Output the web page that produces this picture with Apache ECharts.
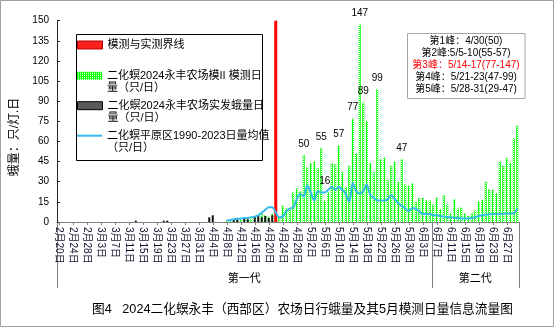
<!DOCTYPE html>
<html><head><meta charset="utf-8">
<script src="https://cdn.jsdelivr.net/npm/echarts@6/dist/echarts.min.js"></script>
<style>html,body{margin:0;padding:0;background:#fff}#c{width:555px;height:328px}</style>
</head><body><div id="c"></div>
<script>
// ---------- data ----------
const categories = [
 '2月20日','2月21日','2月22日','2月23日','2月24日','2月25日','2月26日','2月27日','2月28日','2月29日',
 '3月1日','3月2日','3月3日','3月4日','3月5日','3月6日','3月7日','3月8日','3月9日','3月10日',
 '3月11日','3月12日','3月13日','3月14日','3月15日','3月16日','3月17日','3月18日','3月19日','3月20日',
 '3月21日','3月22日','3月23日','3月24日','3月25日','3月26日','3月27日','3月28日','3月29日','3月30日','3月31日',
 '4月1日','4月2日','4月3日','4月4日','4月5日','4月6日','4月7日','4月8日','4月9日','4月10日',
 '4月11日','4月12日','4月13日','4月14日','4月15日','4月16日','4月17日','4月18日','4月19日','4月20日',
 '4月21日','4月22日','4月23日','4月24日','4月25日','4月26日','4月27日','4月28日','4月29日','4月30日',
 '5月1日','5月2日','5月3日','5月4日','5月5日','5月6日','5月7日','5月8日','5月9日','5月10日',
 '5月11日','5月12日','5月13日','5月14日','5月15日','5月16日','5月17日','5月18日','5月19日','5月20日',
 '5月21日','5月22日','5月23日','5月24日','5月25日','5月26日','5月27日','5月28日','5月29日','5月30日','5月31日',
 '6月1日','6月2日','6月3日','6月4日','6月5日','6月6日','6月7日','6月8日','6月9日','6月10日',
 '6月11日','6月12日','6月13日','6月14日','6月15日','6月16日','6月17日','6月18日','6月19日','6月20日',
 '6月21日','6月22日','6月23日','6月24日','6月25日','6月26日','6月27日','6月28日','6月29日','6月30日'
];
const seriesNames = ['模测与实测界线','二化螟2024永丰农场模II 模测日量（只/日）','二化螟2024永丰农场实发蛾量日量（只/日）','二化螟平原区1990-2023日量均值（只/日）'];
const legendTexts = ['模测与实测界线','\n二化螟2024永丰农场模II 模测日\n量（只/日）','\n二化螟2024永丰农场实发蛾量日\n量（只/日）','\n二化螟平原区1990-2023日量均值\n（只/日）'];

const boundaryDate = '4月22日';
const boundaryValue = 150;

const modelStart = '4月8日';
const modelValues = [1,1,1,1.5,1.5,2,2,2.5,3,4,6,5,4,6,null,
 3,12,10,9,22,25,23,50,41,44,45,40,55,16,22,44,43,57,37,26,42,77,51,147,89,75,44,37,99,47,48,
 31,42,45,30,47,28,27,29,15,18,18,16,16,13,18,9.5,20,13,6.5,17,10,11,6.5,4.5,6.5,8.5,15.5,16.5,
 30,24.5,24,21.5,45,42,47.5,44,62,72];

const actualDates = ['3月13日','3月21日','3月22日','4月3日','4月4日','4月10日','4月11日','4月13日','4月14日','4月16日','4月17日','4月18日','4月19日','4月20日','4月21日'];
const actualValues = [1,1,1,3.5,5,2,2,2.5,2,4,5,3.5,4.5,3,5];

const avgStart = '4月8日';
const avgValues = [1,1.5,2,2.5,2.5,3,3,3.5,4,5,7,9,11,11,7,3.5,4,8,10,11,17,21,19,27,22,16,23,22,22,24,
 26,24,26,24,21,15,29,23,21,23,28,20,18,16,16,16,17,20,17,14,12,10,8,10.5,10,8,6,6,6,5,5,4.5,4,3.5,
 3.5,3,3,2.7,2.7,2.7,3,3.5,4.5,5,5.5,5.7,6,6,6,6.2,6.4,6.4,6.5,10];

const peakLabelDates = ['4月30日','5月5日','5月6日','5月10日','5月14日','5月16日','5月17日','5月21日','5月28日'];

const genNames = ['第一代','第二代'];
const genStarts = ['2月20日','6月6日'];

const peakNotes = ['第1峰：4/30(50)','第2峰:5/5-10(55-57)','第3峰：5/14-17(77-147)','第4峰：5/21-23(47-99)','第5峰：5/28-31(29-47)'];
const peakNoteColors = ['#000','#000','#ff0000','#000','#000'];

const yName = '蛾量：只/灯.日';
const chartTitle = '图4   2024二化螟永丰（西部区）农场日行蛾量及其5月模测日量信息流量图';
const yTicks = {min:0, max:150, interval:15};

// ---------- build ----------
const N = categories.length;
function fillFrom(start, vals){ const a = new Array(N).fill(null); const s = categories.indexOf(start); vals.forEach((v,k)=>{a[s+k]=v;}); return a; }
function fillAt(dates, vals){ const a = new Array(N).fill(null); dates.forEach((d,k)=>{a[categories.indexOf(d)]=vals[k];}); return a; }
const boundaryData = fillAt([boundaryDate],[boundaryValue]);
const modelData = fillFrom(modelStart, modelValues).map((v,i)=>{
  if (peakLabelDates.indexOf(categories[i])>=0) {
    return {value:v, label:{show:true, distance: categories[i]==='5月6日'?14:6}};
  }
  return v;
});
const actualData = fillAt(actualDates, actualValues);
const avgData = fillFrom(avgStart, avgValues);

function makePattern(){
  const c = document.createElement('canvas'); c.width=2; c.height=2;
  const g = c.getContext('2d');
  g.fillStyle='#00ff00'; g.fillRect(0,0,2,2);
  g.fillStyle='#ffffff'; g.fillRect(1,1,1,1);
  return c;
}
const greenFill = {image: makePattern(), repeat:'repeat'};
const FONT = "'Liberation Sans','Noto Sans CJK SC',sans-serif";

const legendTops = [39, 57.7, 87.7, 117.7];
const legendIcons = ['rect','rect','rect','path://M0,0L25,0L25,2L0,2Z'];
const legendItemStyles = [
  {color:'#ff2020', borderColor:'#b00000', borderWidth:1},
  {color: greenFill},
  {color:'#595959', borderColor:'#000', borderWidth:1},
  {color:'#33bbee', borderWidth:0}
];

const chart = echarts.init(document.getElementById('c'), null, {renderer:'canvas'});
const option = {
  animation:false,
  backgroundColor:'#fff',
  textStyle:{fontFamily:FONT},
  title:{text:chartTitle, left:92, top:303, padding:0, textStyle:{fontSize:12.7, fontWeight:'normal', color:'#000', fontFamily:FONT}},
  grid:{left:57, right:36, top:20.7, bottom:106, containLabel:false},
  legend: seriesNames.map((nm,k)=>({
    data:[{name:nm, icon:legendIcons[k], itemStyle:legendItemStyles[k]}],
    orient:'vertical', left:77, top:legendTops[k], padding:0,
    itemWidth:25, itemHeight:8, itemGap:0, selectedMode:false, symbolKeepAspect:true,
    formatter:()=>legendTexts[k],
    textStyle:{fontSize:11, lineHeight:12, color:'#000', fontFamily:FONT}
  })),
  xAxis:[{
    type:'category', data:categories, boundaryGap:true,
    axisLine:{lineStyle:{color:'#808080', width:1}},
    axisTick:{show:true, interval:3, alignWithLabel:true, length:3, lineStyle:{color:'#808080'}},
    axisLabel:{interval:3, rotate:-90, fontSize:10, color:'#10102a', margin:5, fontFamily:FONT},
    splitLine:{show:false}
  },{
    type:'category', data:categories, show:false, boundaryGap:true
  }],
  yAxis:{
    type:'value', min:yTicks.min, max:yTicks.max, interval:yTicks.interval,
    axisLine:{show:true, lineStyle:{color:'#262626'}},
    axisTick:{show:true, inside:true, length:3, lineStyle:{color:'#262626'}},
    axisLabel:{fontSize:10, color:'#000', margin:8, fontFamily:FONT},
    splitLine:{show:false}
  },
  series:[
    {name:seriesNames[0], type:'bar', xAxisIndex:1, data:boundaryData, barWidth:3, itemStyle:{color:'#ff0000'}},
    {name:seriesNames[1], type:'bar', data:modelData, barWidth:2, barGap:'-100%', itemStyle:{color:greenFill},
      label:{show:false, position:'top', distance:6, color:'#000', fontSize:10, fontFamily:FONT}},
    {name:seriesNames[2], type:'bar', data:actualData, barWidth:2, barGap:'-100%', itemStyle:{color:'#111'}},
    {name:seriesNames[3], type:'line', data:avgData, symbol:'none', showSymbol:false, smooth:0.3,
      lineStyle:{color:'#33bbee', width:2}, itemStyle:{color:'#33bbee'}, z:5}
  ]
};
chart.setOption(option);

// ---------- decorations derived from axes ----------
const c0 = chart.convertToPixel({xAxisIndex:0}, categories[0]);
const c1 = chart.convertToPixel({xAxisIndex:0}, categories[1]);
const bw = c1 - c0;
const yBase = chart.convertToPixel({yAxisIndex:0}, 0);
const rightEdge = chart.convertToPixel({xAxisIndex:0}, categories[N-1]) + bw/2;
const starts = genStarts.map(d=>chart.convertToPixel({xAxisIndex:0}, d) - bw/2);
const edges = starts.concat([rightEdge]);
const boxBottom = yBase + 66;
const gfx = [];
gfx.push({type:'rect', silent:true, shape:{x:0.5,y:0.5,width:553,height:326}, style:{fill:null, stroke:'#a0a0a0', lineWidth:1}});
gfx.push({type:'rect', silent:true, shape:{x:76.5,y:34.5,width:186,height:126}, style:{fill:null, stroke:'#000', lineWidth:1}});
gfx.push({type:'rect', silent:true, shape:{x:407.5,y:33.5,width:117.5,height:65}, style:{fill:null, stroke:'#a6a6a6', lineWidth:1}});
peakNotes.forEach((t,k)=>{
  gfx.push({type:'text', silent:true, x:466, y:41.7+k*11.9, style:{text:t, fill:peakNoteColors[k], fontSize:10, fontFamily:FONT, align:'center', verticalAlign:'middle'}});
});
gfx.push({type:'text', silent:true, x:15, y:137, rotation:Math.PI/2, style:{text:yName, fill:'#000', fontSize:12, fontFamily:FONT, align:'center', verticalAlign:'middle'}});
edges.forEach(x=>{
  const xx = Math.round(x)+0.5;
  gfx.push({type:'line', silent:true, shape:{x1:xx,y1:yBase,x2:xx,y2:boxBottom}, style:{stroke:'#808080', lineWidth:1}});
});
genNames.forEach((g,k)=>{
  gfx.push({type:'text', silent:true, x:(edges[k]+edges[k+1])/2, y:yBase+57, style:{text:g, fill:'#000', fontSize:11, fontFamily:FONT, align:'center', verticalAlign:'middle'}});
});
chart.setOption({graphic:gfx});
</script></body></html>
